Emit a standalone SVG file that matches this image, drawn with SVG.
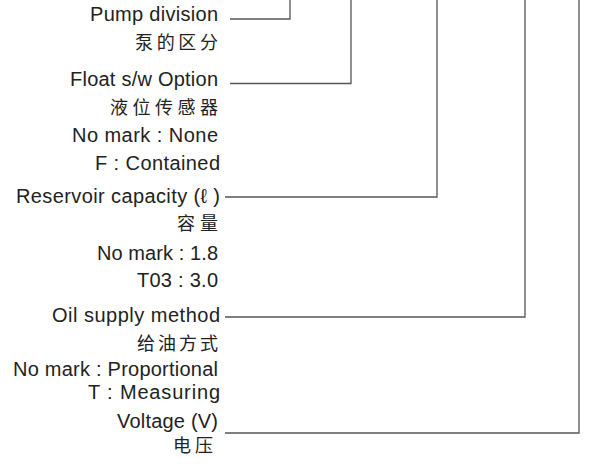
<svg xmlns="http://www.w3.org/2000/svg" width="589" height="470" viewBox="0 0 589 470">
<style>
.t{font-family:"Liberation Sans","Noto Sans CJK SC",sans-serif;font-size:20px;fill:#222;text-anchor:end}
.c{font-family:"Noto Sans CJK SC",sans-serif;font-size:18px;fill:#222;text-anchor:end}
.ln{fill:none;stroke:#555;stroke-width:1.3}
</style>
<rect width="589" height="470" fill="#fff"/>
<g id="pump">
<text class="t" x="218" y="21" textLength="128">Pump division</text>
<text class="c" x="218" y="49" textLength="83">泵的区分</text>
</g>
<g id="float">
<text class="t" x="218" y="86" textLength="148">Float s/w Option</text>
<text class="c" x="218" y="114" textLength="108">液位传感器</text>
<text class="t" x="218" y="142" textLength="146">No mark : None</text>
<text class="t" x="220" y="170" textLength="125">F : Contained</text>
</g>
<g id="reservoir">
<text class="t" x="220" y="203" textLength="204">Reservoir capacity (ℓ )</text>
<text class="c" x="218" y="230" textLength="41">容量</text>
<text class="t" x="218" y="260" textLength="121">No mark : 1.8</text>
<text class="t" x="218" y="287" textLength="81">T03 : 3.0</text>
</g>
<g id="oil">
<text class="t" x="220" y="322" textLength="168">Oil supply method</text>
<text class="c" x="218" y="350" textLength="81">给油方式</text>
<text class="t" x="218" y="376" textLength="205">No mark : Proportional</text>
<text class="t" x="220" y="399" textLength="132">T : Measuring</text>
</g>
<g id="voltage">
<text class="t" x="218" y="428" textLength="101">Voltage (V)</text>
<text class="c" x="213" y="452" font-size="17" textLength="40">电压</text>
</g>
<g id="connectors">
<path class="ln" d="M230 19H290V0"/>
<path class="ln" d="M230 83.5H351V0"/>
<path class="ln" d="M225 197H437V0"/>
<path class="ln" d="M225 317H525V0"/>
<path class="ln" d="M225 433H579V0"/>
</g>
</svg>
